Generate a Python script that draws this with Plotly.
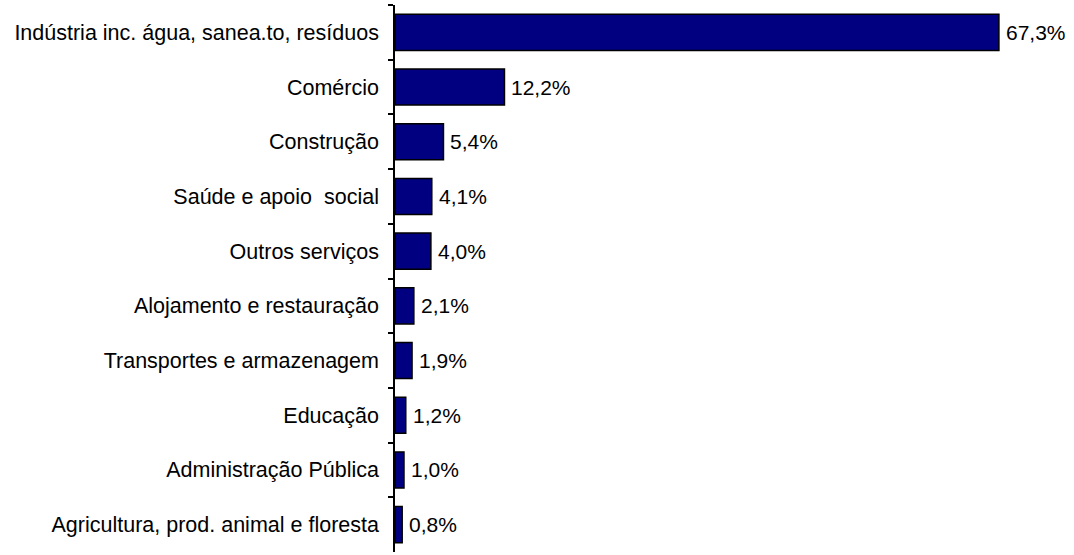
import plotly.graph_objects as go

categories = [
    "Indústria inc. água, sanea.to, resíduos",
    "Comércio",
    "Construção",
    "Saúde e apoio\u00a0 social",
    "Outros serviços",
    "Alojamento e restauração",
    "Transportes e armazenagem",
    "Educação",
    "Administração Pública",
    "Agricultura, prod. animal e floresta",
]
values = [67.3, 12.2, 5.4, 4.1, 4.0, 2.1, 1.9, 1.2, 1.0, 0.8]
labels = [f"{v:.1f}%".replace(".", ",") for v in values]

FONT = "Liberation Sans, Arial"

fig = go.Figure(go.Bar(
    x=values, y=categories, orientation="h",
    marker=dict(color="#000080", line=dict(color="black", width=1.5)),
    hoverinfo="skip",
))
for c, v, t in zip(categories, values, labels):
    fig.add_annotation(x=v, y=c, text=t, showarrow=False, xanchor="left",
                       xshift=5, font=dict(family=FONT, size=21, color="black"))
fig.update_layout(
    width=1074, height=555,
    margin=dict(l=395, r=6, t=5, b=3),
    paper_bgcolor="white", plot_bgcolor="white",
    bargap=0.34, showlegend=False,
    font=dict(family=FONT, size=21.5, color="black"),
)
fig.update_xaxes(range=[0, 75], visible=False, showgrid=False, zeroline=False)
fig.update_yaxes(
    autorange="reversed", showline=True, linecolor="black", linewidth=1.5,
    ticks="outside", tickson="boundaries", ticklen=5, tickcolor="black", tickwidth=1.5,
    showgrid=False, ticklabelstandoff=10,
)
fig.write_html("out.html", config={"displayModeBar": False},
               post_script="document.body.style.margin='0';")
